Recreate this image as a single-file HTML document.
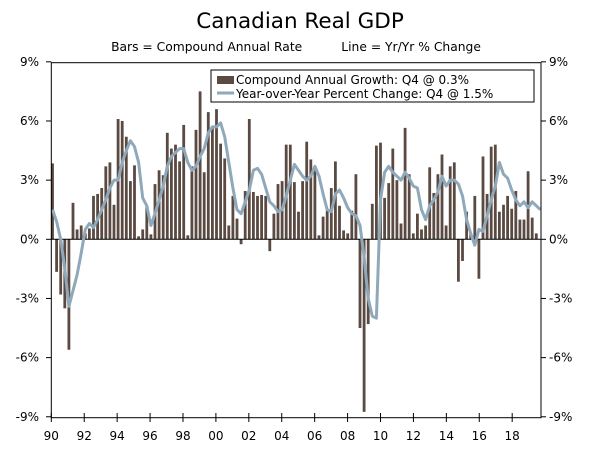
<!DOCTYPE html>
<html><head><meta charset="utf-8"><style>
body{margin:0;background:#fff}
svg{display:block;font-family:"DejaVu Sans","Liberation Sans",sans-serif}
</style></head><body>
<svg id="chart" width="600" height="449" viewBox="0 0 600 449">
<text x="300" y="28" text-anchor="middle" font-size="21.5" fill="#000">Canadian Real GDP</text>
<text x="296" y="51" text-anchor="middle" font-size="12.3" fill="#000" xml:space="preserve">Bars = Compound Annual Rate          Line = Yr/Yr % Change</text>
<g id="marks"></g>
<rect x="51.3" y="62.7" width="489.7" height="355" fill="none" stroke="#000" stroke-width="1"/>
<g id="axes"></g>
<g>
<rect x="211" y="70" width="323" height="32" fill="#fff" stroke="#000" stroke-width="1"/>
<rect x="217" y="76" width="17" height="8" fill="#5a4a42"/>
<text x="236" y="84" font-size="12">Compound Annual Growth: Q4 @ 0.3%</text>
<line x1="217" y1="93" x2="234" y2="93" stroke="#8fa9bb" stroke-width="3"/>
<text x="236" y="98" font-size="12">Year-over-Year Percent Change: Q4 @ 1.5%</text>
</g>
</svg>
<script>
const startYear = 1990;
const barValues = [3.85,-1.65,-2.8,-3.5, -5.6,1.85,0.5,0.7, 0.3,0.55,2.2,2.3, 2.6,3.7,3.9,1.75, 6.1,6.0,5.2,2.95, 3.75,0.15,0.5,1.7, 0.25,2.8,3.5,3.25, 5.4,4.6,4.8,3.95, 5.8,0.2,3.7,5.55, 7.5,3.4,6.45,5.75,
6.6,4.85,4.1,0.7, 2.2,1.05,-0.25,2.45, 6.1,2.4,2.2,2.25, 2.2,-0.6,1.3,2.8, 2.95,4.8,4.8,2.9, 1.4,2.95,4.95,4.05, 3.7,0.2,1.15,1.45, 2.6,3.95,1.7,0.45, 0.3,1.45,3.3,-4.5,
-8.75,-4.3,1.8,4.75, 4.9,2.1,2.85,4.6, 3.0,0.8,5.65,3.3, 0.3,1.3,0.5,0.7, 3.65,2.35,3.3,4.3, 0.7,3.7,3.9,-2.15, -1.1,1.4,0.3,2.2, -2.0,4.2,2.3,4.7, 4.8,1.4,1.75,2.2, 1.55,2.45,1.0,1.0, 3.45,1.1,0.3];
const yoyValues = [1.5,0.9,0.0,-1.5, -3.4,-2.6,-1.8,-0.7, 0.5,0.8,0.6,1.0, 1.5,2.0,2.6,3.0, 3.0,3.9,4.5,5.0, 4.7,3.9,2.1,1.7, 0.7,1.3,2.0,2.7, 3.7,4.2,4.4,4.6, 4.6,3.9,3.5,3.7, 4.2,4.6,5.4,5.7,
5.7,5.9,5.2,3.9, 2.6,1.5,1.3,1.9, 2.5,3.5,3.6,3.3, 2.6,1.9,1.7,1.4, 1.5,2.2,3.0,3.8, 3.5,3.2,3.0,3.2, 3.7,3.2,2.3,1.5, 1.4,2.3,2.5,2.1, 1.6,1.3,1.2,0.7,
-0.9,-3.0,-3.9,-4.0, 2.0,3.4,3.7,3.4, 3.2,3.0,3.4,3.1, 2.7,2.6,1.5,1.0, 1.7,2.0,2.4,3.2, 2.7,3.0,3.0,2.8, 2.2,1.0,0.3,-0.3, 0.5,0.4,1.2,2.0, 2.7,3.9,3.3,3.1, 2.5,2.0,1.7,1.9, 1.6,1.9,1.7,1.5];
const yTicks = [-9,-6,-3,0,3,6,9];
const yTickLabels = ["-9%","-6%","-3%","0%","3%","6%","9%"];
const xTickYears = [1990,1992,1994,1996,1998,2000,2002,2004,2006,2008,2010,2012,2014,2016,2018];
const xTickLabels = ["90","92","94","96","98","00","02","04","06","08","10","12","14","16","18"];

const NS="http://www.w3.org/2000/svg";
const y = v => 239.3 - v*19.72;
const xq = i => 52.5 + i*4.1;
const xYear = yr => 51.3 + (yr-startYear)*16.46;
const marks=document.getElementById('marks'), axes=document.getElementById('axes');
function mk(tag,attrs,parent){const e=document.createElementNS(NS,tag);for(const k in attrs)e.setAttribute(k,attrs[k]);parent.appendChild(e);return e;}
barValues.forEach((v,i)=>{
  const r=mk('rect',{x:xq(i)-1.4,y:Math.min(y(v),y(0)),width:2.8,height:Math.abs(y(v)-y(0)),fill:'#5a4a42'},marks);
  
  
});
const zl=mk('line',{x1:51.3,x2:541,y1:y(0),y2:y(0),stroke:'#000','stroke-width':1},marks);


const pl=mk('polyline',{points:yoyValues.map((v,i)=>xq(i)+','+y(v)).join(' '),fill:'none',stroke:'#8fa9bb','stroke-width':3,'stroke-linejoin':'round'},marks);


yTicks.forEach((t,k)=>{
  mk('line',{x1:46,x2:51.3,y1:y(t),y2:y(t),stroke:'#000'},axes);
  mk('line',{x1:541,x2:546,y1:y(t),y2:y(t),stroke:'#000'},axes);
  const a=mk('text',{x:39,y:y(t)+4,'text-anchor':'end','font-size':12},axes);a.textContent=yTickLabels[k];
  
  
  const b=mk('text',{x:549,y:y(t)+4,'font-size':12},axes);b.textContent=yTickLabels[k];
  
  
});
xTickYears.forEach((yr,k)=>{
  mk('line',{x1:xYear(yr),x2:xYear(yr),y1:413,y2:422,stroke:'#000'},axes);
  const t=mk('text',{x:xYear(yr),y:440,'text-anchor':'middle','font-size':12},axes);t.textContent=xTickLabels[k];
  
  
});
</script>
</body></html>
